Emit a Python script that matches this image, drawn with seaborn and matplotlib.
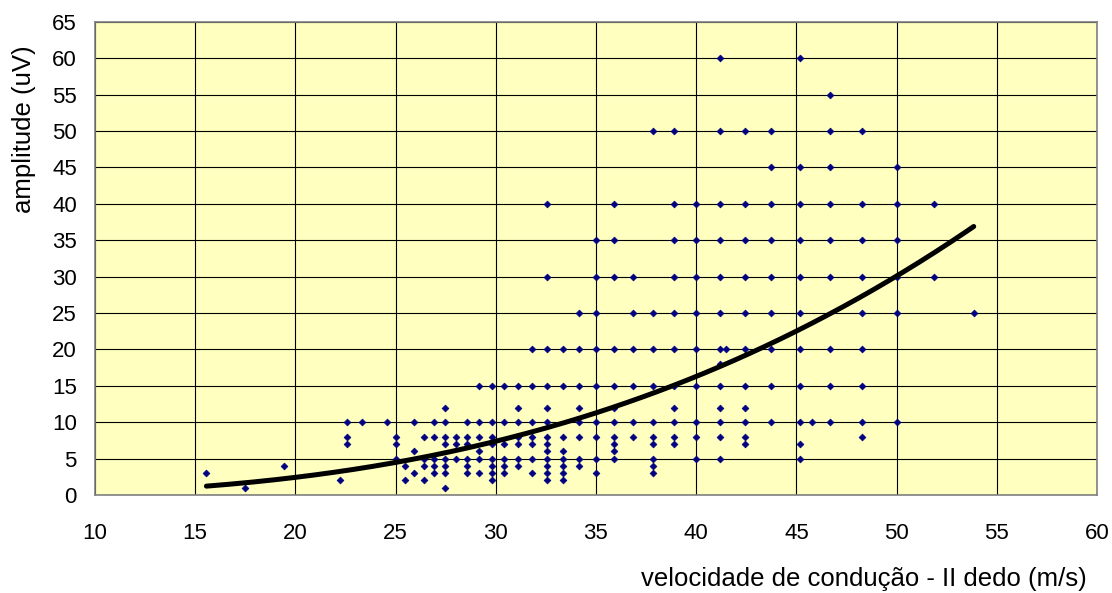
import numpy as np
import pandas as pd
import matplotlib
matplotlib.use("Agg")
import matplotlib.pyplot as plt
import seaborn as sns

# velocidade de condução (m/s) e amplitude (uV) de cada ponto
velocidade = (
    [15.56, 17.5, 19.44, 22.22]
    + [22.58] * 3 + [23.33, 24.56] + [25.0] * 3 + [25.45] * 2 + [25.93] * 3
    + [26.42] * 4 + [26.92] * 5 + [27.45] * 8 + [28.0] * 3 + [28.57] * 6
    + [29.17] * 6 + [29.79] * 8 + [30.43] * 6 + [31.11] * 7 + [31.82] * 7
    + [32.56] * 13 + [33.33] * 8 + [34.15] * 8 + [35.0] * 9 + [35.9] * 11
    + [36.84] * 6 + [37.84] * 10 + [38.89] * 11 + [40.0] * 9 + [41.18] * 13
    + [41.5] + [42.42] * 11 + [43.75] * 9 + [45.16] * 11 + [45.77]
    + [46.67] * 9 + [48.28] * 9 + [50.0] * 6 + [51.85] * 2 + [53.85]
)
amplitude = [
    3, 1, 4, 2,
    10, 8, 7,  10,  10,  8, 7, 5,  4, 2,  10, 6, 3,
    8, 5, 4, 2,
    10, 8, 5, 4, 3,
    12, 10, 8, 7, 5, 4, 3, 1,
    8, 7, 5,
    10, 8, 7, 5, 4, 3,
    15, 10, 8, 6, 5, 3,
    15, 10, 8, 7, 5, 4, 3, 2,
    15, 10, 7, 5, 4, 3,
    15, 12, 10, 8, 7, 5, 4,
    20, 15, 10, 8, 7, 5, 3,
    40, 30, 20, 15, 12, 10, 8, 7, 6, 5, 4, 3, 2,
    20, 15, 8, 6, 5, 4, 3, 2,
    25, 20, 15, 12, 10, 8, 5, 4,
    35, 30, 25, 20, 15, 10, 8, 5, 3,
    40, 35, 30, 20, 15, 12, 10, 8, 7, 6, 5,
    30, 25, 20, 15, 10, 8,
    50, 25, 20, 15, 10, 8, 7, 5, 4, 3,
    50, 40, 35, 30, 25, 20, 15, 12, 10, 8, 7,
    40, 35, 30, 25, 20, 15, 10, 8, 5,
    60, 50, 40, 35, 30, 25, 20, 18, 15, 12, 10, 8, 5,
    20,
    50, 40, 35, 30, 25, 20, 15, 12, 10, 8, 7,
    50, 45, 40, 35, 30, 25, 20, 15, 10,
    60, 45, 40, 35, 30, 25, 20, 15, 10, 7, 5,
    10,
    55, 50, 45, 40, 35, 30, 20, 15, 10,
    50, 40, 35, 30, 25, 20, 15, 10, 8,
    45, 40, 35, 30, 25, 10,
    40, 30,
    25,
]

# linha de tendência (potência): y = a * x^b
trend_a = 6.4e-4
trend_b = 2.75

df = pd.DataFrame({"velocidade": velocidade, "amplitude": amplitude})
xs = np.linspace(min(velocidade), max(velocidade), 200)
trend = pd.DataFrame({"velocidade": xs, "amplitude": trend_a * xs ** trend_b})

sns.set_style("white")
plt.rcParams["font.family"] = ["Liberation Sans", "DejaVu Sans"]
plt.rcParams["text.color"] = "black"

fig = plt.figure(figsize=(11.12, 5.93), dpi=100)
ax = fig.add_axes([0.0854, 0.1653, 0.9011, 0.7977])
ax.set_facecolor("#FFFFC0")

sns.scatterplot(data=df, x="velocidade", y="amplitude", ax=ax, marker="D",
                s=12, color="#000080", edgecolor="#000080", linewidth=0.5,
                zorder=3)
sns.lineplot(data=trend, x="velocidade", y="amplitude", ax=ax,
             color="black", linewidth=3.6, zorder=4)

ax.set_xlim(10, 60)
ax.set_ylim(0, 65)
ax.set_xticks(range(10, 61, 5))
ax.set_yticks(range(0, 66, 5))
ax.grid(True, color="black", linewidth=0.8)
ax.set_axisbelow(True)
for s in ax.spines.values():
    s.set_color("#808080")
    s.set_linewidth(1.2)
ax.tick_params(axis="both", direction="out", length=6, width=0.8,
               color="black", labelcolor="black", labelsize=16)
ax.tick_params(axis="y", pad=7)
ax.tick_params(axis="x", pad=14)

ax.set_xlabel("")
ax.set_ylabel("")
fig.text(0.777, 0.012, "velocidade de condução - II dedo (m/s)",
         ha="center", va="baseline", fontsize=18.5, color="black")
fig.text(0.0216, 0.782, "amplitude (uV)", rotation=90,
         ha="center", va="center", fontsize=18.5, color="black")

fig.savefig("out.png", dpi=100)
